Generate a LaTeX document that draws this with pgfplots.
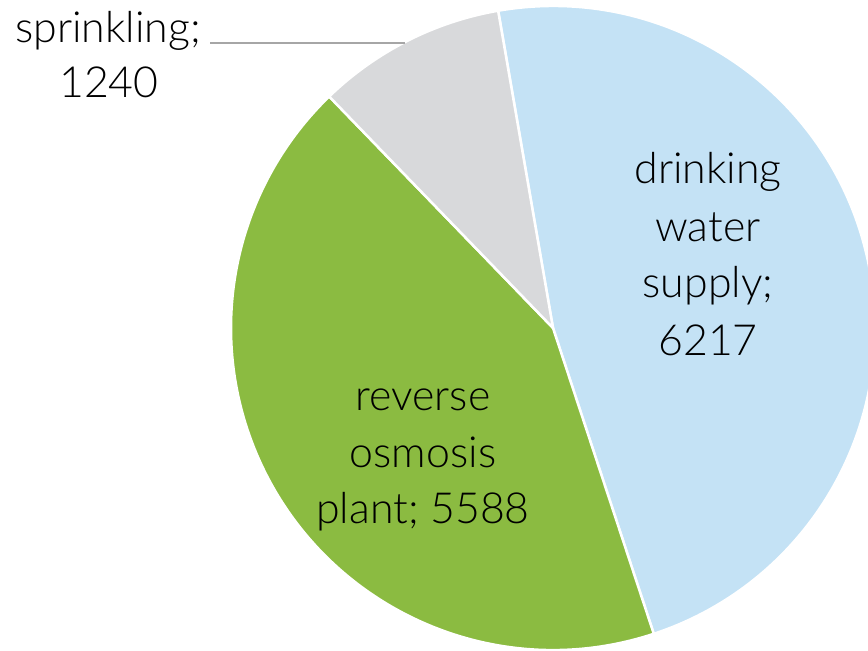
\documentclass[border=0pt]{standalone}
\usepackage{pgfplots}
\pgfplotsset{compat=1.18}
\usepackage{pgfplotstable}
\usepackage{fontspec}
\setmainfont{Lato Light}
\definecolor{cblue}{HTML}{C4E2F5}
\definecolor{cgreen}{HTML}{8BBB41}
\definecolor{cgrey}{HTML}{D8D9DB}
\definecolor{ctext}{HTML}{404040}
\definecolor{cline}{HTML}{A6A6A6}
\pgfplotstableread{
label value
drinking 6217
osmosis 5588
sprinkling 1240
}\piedata
\begin{document}
\begin{tikzpicture}
\useasboundingbox (0,0) rectangle (868bp,651bp);
\clip (0,0) rectangle (868bp,651bp);
\pgfplotstablegetelem{0}{value}\of\piedata \let\va\pgfplotsretval
\pgfplotstablegetelem{1}{value}\of\piedata \let\vb\pgfplotsretval
\pgfplotstablegetelem{2}{value}\of\piedata \let\vc\pgfplotsretval
\pgfmathsetmacro{\tot}{\va/1000+\vb/1000+\vc/1000}
\pgfmathsetmacro{\aS}{99.8}
\pgfmathsetmacro{\aA}{\aS-(\va/1000)/\tot*360}
\pgfmathsetmacro{\aB}{\aA-(\vb/1000)/\tot*360}
\pgfmathsetmacro{\aC}{\aB-(\vc/1000)/\tot*360}
\begin{axis}[anchor=origin, at={(0,0)}, x=1bp, y=1bp,
  xmin=0, xmax=868, ymin=0, ymax=651, hide axis, clip=false,
  font=\fontsize{43}{56}\selectfont, every node/.style={text=ctext}]
\fill[cblue, draw=white, line width=2.5bp] (axis cs:553,323) -- ++(\aS:322bp) arc[start angle=\aS, end angle=\aA, radius=322bp] -- cycle;
\fill[cgreen, draw=white, line width=2.5bp] (axis cs:553,323) -- ++(\aA:322bp) arc[start angle=\aA, end angle=\aB, radius=322bp] -- cycle;
\fill[cgrey, draw=white, line width=2.5bp] (axis cs:553,323) -- ++(\aB:322bp) arc[start angle=\aB, end angle=\aC, radius=322bp] -- cycle;
\draw[cline, line width=1.5bp] (axis cs:210,608) -- (axis cs:405,608);
\node[anchor=base] at (axis cs:708,468) {drinking};
\node[anchor=base] at (axis cs:708,410) {water};
\node[anchor=base] at (axis cs:708,354) {supply;};
\node[anchor=base] at (axis cs:708,296) {\va};
\node[anchor=base] at (axis cs:423,241) {reverse};
\node[anchor=base] at (axis cs:423,184) {osmosis};
\node[anchor=base] at (axis cs:423,128) {plant; \vb};
\node[anchor=base] at (axis cs:108,609) {sprinkling;};
\node[anchor=base] at (axis cs:109,554) {\vc};
\end{axis}
\end{tikzpicture}
\end{document}
